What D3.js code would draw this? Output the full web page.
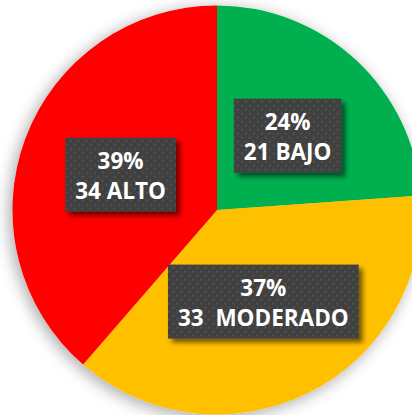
<!DOCTYPE html>
<html><head><meta charset="utf-8">
<script src="https://cdn.jsdelivr.net/npm/d3@7"></script>
<style>html,body{margin:0;padding:0;background:#fff;overflow:hidden}</style>
</head><body>
<svg id="c" width="412" height="415"></svg>
<script>
const categories = ["BAJO", "MODERADO", "ALTO"];
const values = [21, 33, 34];
const percentLabels = ["24%", "37%", "39%"];
const countLabels = ["21 BAJO", "33  MODERADO", "34 ALTO"];
const colors = ["#00B050", "#FFC000", "#FF0000"];

const W = 412, H = 415, cx = 217, cy = 210, R = 204.5;
const svg = d3.select("#c");
const defs = svg.append("defs");

const f1 = defs.append("filter").attr("id","pieShadow").attr("x","-20%").attr("y","-20%").attr("width","140%").attr("height","140%");
f1.append("feGaussianBlur").attr("in","SourceAlpha").attr("stdDeviation",8).attr("result","b");
f1.append("feOffset").attr("in","b").attr("dx",-3).attr("dy",3).attr("result","o");
f1.append("feComponentTransfer").attr("in","o").attr("result","s").append("feFuncA").attr("type","linear").attr("slope",0.35);
const m1 = f1.append("feMerge"); m1.append("feMergeNode").attr("in","s"); m1.append("feMergeNode").attr("in","SourceGraphic");

const f2 = defs.append("filter").attr("id","boxShadow").attr("x","-20%").attr("y","-20%").attr("width","150%").attr("height","150%");
f2.append("feGaussianBlur").attr("in","SourceAlpha").attr("stdDeviation",2.5).attr("result","b");
f2.append("feOffset").attr("in","b").attr("dx",4).attr("dy",4).attr("result","o");
f2.append("feComponentTransfer").attr("in","o").attr("result","s").append("feFuncA").attr("type","linear").attr("slope",0.55);
const m2 = f2.append("feMerge"); m2.append("feMergeNode").attr("in","s"); m2.append("feMergeNode").attr("in","SourceGraphic");

const pat = defs.append("pattern").attr("id","dots").attr("patternUnits","userSpaceOnUse").attr("width",8).attr("height",8);
pat.append("rect").attr("width",8).attr("height",8).attr("fill","#404040");
pat.append("rect").attr("x",1).attr("y",1).attr("width",2).attr("height",2).attr("fill","#525252");
pat.append("rect").attr("x",5).attr("y",5).attr("width",2).attr("height",2).attr("fill","#525252");

const pie = d3.pie().sort(null).value(d => d);
const arcs = pie(values);
const arc = d3.arc().innerRadius(0).outerRadius(R);
const labelArc = d3.arc().innerRadius(R*0.55).outerRadius(R*0.55);

const g = svg.append("g").attr("transform",`translate(${cx},${cy})`);
g.append("g").attr("filter","url(#pieShadow)")
 .selectAll("path").data(arcs).join("path")
 .attr("d", arc).attr("fill",(d,i)=>colors[i]);

const nudges = [[-6,8],[-4,-9],[9,4]];
const lg = g.append("g");
arcs.forEach((d,i)=>{
  const [x,y] = labelArc.centroid(d);
  const px = x + nudges[i][0], py = y + nudges[i][1];
  const grp = lg.append("g").attr("transform",`translate(${px},${py})`);
  const box = grp.append("rect").attr("fill","url(#dots)").attr("filter","url(#boxShadow)");
  const t1 = grp.append("text").attr("text-anchor","middle").attr("y",-6)
    .attr("font-family","Open Sans").attr("font-weight","bold").attr("font-size",22.5).attr("fill","#fff").text(percentLabels[i]);
  const t2 = grp.append("text").attr("text-anchor","middle").attr("y",24).attr("xml:space","preserve").style("white-space","pre")
    .attr("font-family","Open Sans").attr("font-weight","bold").attr("font-size",22.5).attr("fill","#fff").text(countLabels[i]);
  const w = Math.max(t1.node().getComputedTextLength(), t2.node().getComputedTextLength()) + 20;
  box.attr("x",-w/2).attr("y",-37).attr("width",w).attr("height",74);
});
</script>
</body></html>
